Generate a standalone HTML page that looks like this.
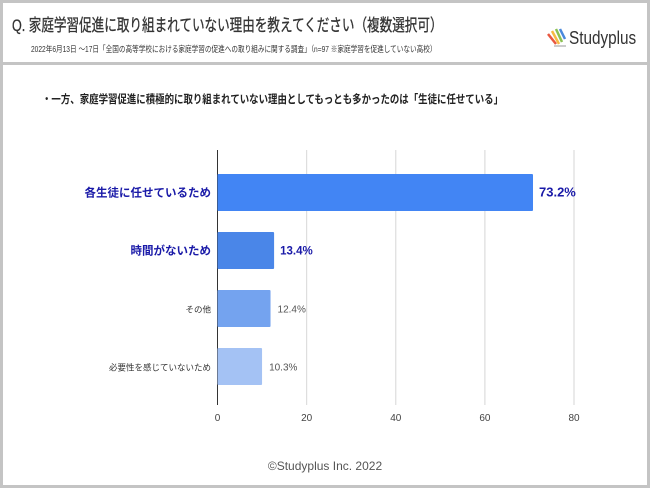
<!DOCTYPE html>
<html><head><meta charset="utf-8"><style>
body{margin:0;width:650px;height:488px;overflow:hidden;background:#fff;font-family:"Liberation Sans","Noto Sans CJK JP",sans-serif}
#frame{position:absolute;left:0;top:0;width:644px;height:482px;border:3px solid #c4c4c4}
#sep{position:absolute;left:0;top:62px;width:650px;height:3px;background:#c4c4c4}
.t{position:absolute;white-space:nowrap;transform-origin:0 0}
</style></head><body>
<div id="frame"></div>
<div class="t" style="left:12px;top:11px;font-size:17px;color:#333;transform:scaleX(0.74);-webkit-text-stroke:0.3px #333">Q. 家庭学習促進に取り組まれていない理由を教えてください（複数選択可）</div>
<div class="t" style="left:31px;top:43px;font-size:8.4px;color:#333;transform:scaleX(0.79)">2022年6月13日 ～17日「全国の高等学校における家庭学習の促進への取り組みに関する調査」（n=97 ※家庭学習を促進していない高校）</div>
<svg style="position:absolute;left:546px;top:28px" width="22" height="20">
<line x1="2" y1="6" x2="10" y2="16" stroke="#e9573f" stroke-width="2.5"/>
<line x1="6" y1="3" x2="13" y2="16" stroke="#f6bb42" stroke-width="2.5"/>
<line x1="10" y1="1" x2="16" y2="14" stroke="#8cc152" stroke-width="2.5"/>
<line x1="14" y1="1" x2="19" y2="11" stroke="#4a89dc" stroke-width="2.5"/>
<line x1="8" y1="18" x2="20" y2="18" stroke="#bbb" stroke-width="1.5"/>
</svg>
<div class="t" style="left:569px;top:28px;font-size:18px;color:#333;transform:scaleX(0.85)">Studyplus</div>
<div id="sep"></div>
<div class="t" style="left:42px;top:91px;font-size:11.5px;color:#222;font-weight:bold;transform:scaleX(0.82)">・一方、家庭学習促進に積極的に取り組まれていない理由としてもっとも多かったのは「生徒に任せている」</div>
<svg id="chart" width="650" height="440" style="position:absolute;left:0;top:0"></svg>
<div class="t" style="left:0;width:650px;text-align:center;top:459px;font-size:12px;color:#555">©Studyplus Inc. 2022</div>
<script>
const categories=["各生徒に任せているため","時間がないため","その他","必要性を感じていないため"];
const values=[70.8,12.7,11.9,10.0];
const valueLabels=["73.2%","13.4%","12.4%","10.3%"];
const ticks=[0,20,40,60,80];
const colors=["#4285f4","#4a86e8","#74a3ef","#a4c2f4"];
const svg=document.getElementById('chart');const NS="http://www.w3.org/2000/svg";
const x0=217.5,x1=574,xmax=80;const X=v=>x0+(x1-x0)*v/xmax;
const Y=i=>174+i*58;const bh=37;
function mk(t,a){const e=document.createElementNS(NS,t);for(const k in a)e.setAttribute(k,a[k]);svg.appendChild(e);return e;}
ticks.forEach(t=>{
 const l=mk('line',{x1:X(t),x2:X(t),y1:150,y2:405,stroke:t===0?'#333':'#ddd','stroke-width':t===0?1:1.2});
 
 
 const tx=mk('text',{x:X(t),y:421,'text-anchor':'middle','font-size':10,fill:'#444'});tx.textContent=t;
 
 
});
categories.forEach((c,i)=>{
 const big=i<2;
 const r=mk('rect',{x:x0,y:Y(i),width:X(values[i])-x0,height:bh,fill:colors[i],rx:1});
 
 
 const lb=mk('text',{x:211,y:Y(i)+bh/2+4,'text-anchor':'end','font-size':big?11.5:8.5,'font-weight':big?'bold':'normal',fill:big?'#1a1aa8':'#333'});lb.textContent=c;
 
 
 const vl=mk('text',{x:X(values[i])+(big?6:7),y:Y(i)+bh/2+4,'font-size':big?(i==0?13:11.5):10,'font-weight':big?'bold':'normal',fill:big?'#1a1aa8':'#555'});vl.textContent=valueLabels[i];
 
 
});
</script>
</body></html>
